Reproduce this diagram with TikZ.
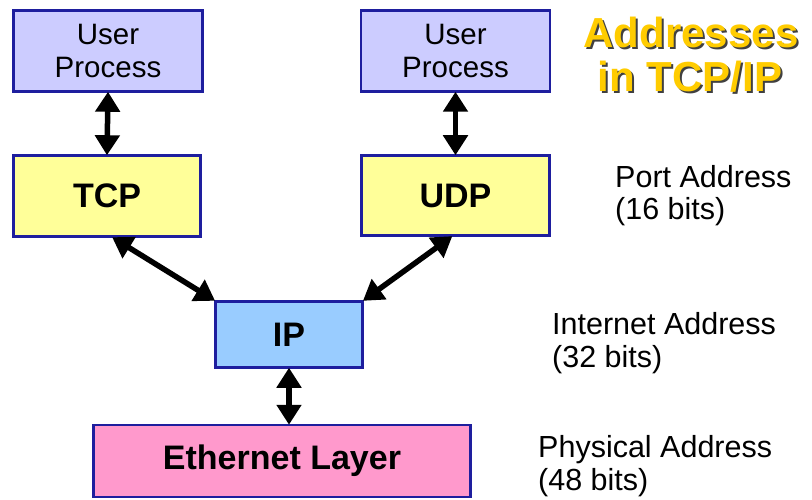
\documentclass[tikz,border=0pt]{standalone}
\usepackage{fontspec}
\setmainfont{Liberation Sans}
\usetikzlibrary{arrows.meta}
\definecolor{bordblue}{HTML}{1E1E9E}
\definecolor{upfill}{HTML}{CCCCFF}
\definecolor{tcpfill}{HTML}{FFFF99}
\definecolor{ipfill}{HTML}{99CCFF}
\definecolor{ethfill}{HTML}{FF99CC}
\definecolor{gold}{HTML}{FFCC00}
\newcommand{\shadowtext}[1]{\rlap{\hspace{2pt}\raisebox{-2pt}{\color{black!75}#1}}{\color{gold}#1}}
\tikzset{
  layerbox/.style={draw=bordblue, line width=2.5pt, rectangle, inner sep=0pt, align=center},
  uptext/.style={font=\fontsize{29.5}{33}\selectfont},
  bigtext/.style={font=\fontsize{34}{36}\selectfont\bfseries},
  lbl/.style={anchor=base west, inner sep=0pt, font=\fontsize{30.5}{32}\selectfont},
  ttl/.style={anchor=base, inner sep=0pt, font=\fontsize{42}{44}\selectfont\bfseries},
  dbl/.style={line width=5.5pt, {Triangle[width=24pt,length=20pt]}-{Triangle[width=24pt,length=20pt]}, shorten <=-1pt, shorten >=-1pt},
}
\begin{document}
\begin{tikzpicture}[x=1pt,y=-1pt]
\useasboundingbox (0,0) rectangle (812,500);
\fill[white] (0,0) rectangle (812,500);
\node[layerbox, fill=upfill, uptext, minimum width=189pt, minimum height=81pt] (up1) at (108,51) {User\\Process};
\node[layerbox, fill=upfill, uptext, minimum width=189pt, minimum height=81pt] (up2) at (455.5,51) {User\\Process};
\node[layerbox, fill=tcpfill, bigtext, minimum width=187pt, minimum height=81pt] (tcp) at (107,196) {TCP};
\node[layerbox, fill=tcpfill, bigtext, minimum width=188pt, minimum height=80pt] (udp) at (455.5,195.5) {UDP};
\node[layerbox, fill=ipfill, bigtext, minimum width=147pt, minimum height=66pt] (ip) at (289,334.5) {IP};
\node[layerbox, fill=ethfill, bigtext, minimum width=377pt, minimum height=72pt] (eth) at (282,461) {Ethernet Layer};
\draw[dbl] (up1.south) -- (tcp.north);
\draw[dbl] (up2.south) -- (udp.north);
\draw[dbl] ([xshift=6pt]tcp.south) -- (ip.north west);
\draw[dbl] ([xshift=-4pt]udp.south) -- (ip.north east);
\draw[dbl] (ip.south) -- (ip.south |- eth.north);
% title with shadow
\node[ttl] (t1) at (691,48) {\shadowtext{Addresses}};
\node[ttl] (t2) at (690,92) {\shadowtext{in TCP/IP}};
% address labels
\node[lbl] (pa1) at (615,188) {Port Address};
\node[lbl] (pa2) at (615,220) {(16 bits)};
\node[lbl] (ia1) at (552,334) {Internet Address};
\node[lbl] (ia2) at (552,367) {(32 bits)};
\node[lbl] (ph1) at (538,457) {Physical Address};
\node[lbl] (ph2) at (538,490) {(48 bits)};
\end{tikzpicture}
\end{document}
